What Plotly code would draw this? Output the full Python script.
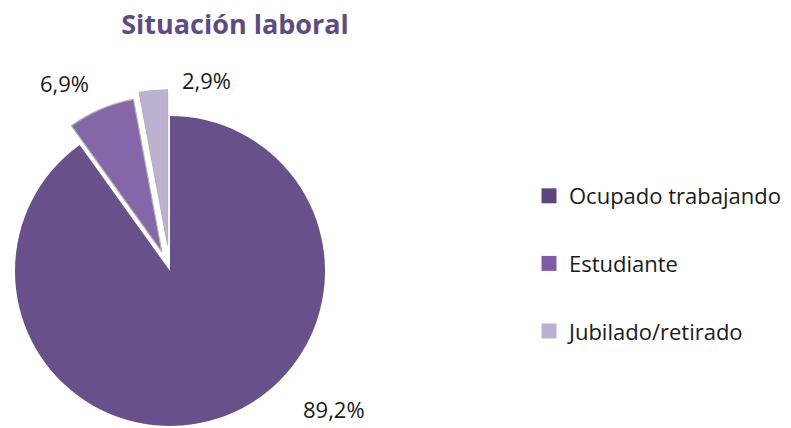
import math
import plotly.graph_objects as go

# ---- data ----
categories = ["Ocupado trabajando", "Estudiante", "Jubilado/retirado"]
values = [89.2, 6.9, 2.9]
title_text = "Situación laboral"

# ---- style ----
slice_colors = ["#68508b", "#8566a8", "#bdb1d2"]
legend_colors = ["#5e4580", "#7e5ca5", "#bbb0cf"]
pulls = [0.0, 0.135, 0.17]
label_pos = [(334, 409), (64, 83), (206, 80)]  # label centres in px

W, H = 791, 428
CX, CY, R = 170, 271, 155

total = sum(values)
fig = go.Figure()
cum = 0.0
for i, v in enumerate(values):
    mid = (cum + v / 2) / total * 2 * math.pi
    cum += v
    d = pulls[i] * R
    cx = CX + d * math.sin(mid)
    cy = CY - d * math.cos(mid)
    colors = ["rgba(0,0,0,0)"] * len(values)
    colors[i] = slice_colors[i]
    widths = [0] * len(values)
    widths[i] = 0 if i == 0 else 1.2
    fig.add_trace(go.Pie(
        labels=categories, values=values, sort=False,
        direction="clockwise", rotation=0,
        marker=dict(colors=colors, line=dict(color="#b3b3b3", width=widths)),
        textinfo="none", hoverinfo="skip", showlegend=False,
        domain=dict(x=[(cx - R) / W, (cx + R) / W],
                    y=[1 - (cy + R) / H, 1 - (cy - R) / H]),
    ))

for i, cat in enumerate(categories):
    fig.add_trace(go.Scatter(
        x=[None], y=[None], mode="markers", name=cat, legendgroup=cat,
        marker=dict(symbol="square", size=15, color=legend_colors[i]),
        showlegend=True,
    ))

for v, (px, py) in zip(values, label_pos):
    fig.add_annotation(
        x=px / W, y=1 - py / H, xref="paper", yref="paper",
        text=f"{v:.1f}".replace(".", ",") + "%", showarrow=False,
        xanchor="center", yanchor="middle",
        font=dict(family="Open Sans", size=22, color="#1a1a1a"),
    )

fig.update_layout(
    width=W, height=H,
    margin=dict(l=0, r=0, t=0, b=0, autoexpand=False),
    paper_bgcolor="white", plot_bgcolor="white",
    xaxis=dict(visible=False), yaxis=dict(visible=False),
    title=dict(text=title_text, x=235 / W, xanchor="center",
               y=1 - 25 / H, yanchor="middle",
               font=dict(family="Open Sans", size=27, color="#5f4b82", weight=700)),
    legend=dict(x=529 / W, xanchor="left", y=1 - 175 / H, yanchor="top",
                traceorder="grouped", tracegroupgap=36,
                font=dict(family="Open Sans", size=22, color="#1a1a1a"),
                bgcolor="rgba(0,0,0,0)"),
    showlegend=True,
)

fig.write_html("out.html", config={"displayModeBar": False},
               post_script="document.body.style.margin='0';document.body.style.overflow='hidden';")
